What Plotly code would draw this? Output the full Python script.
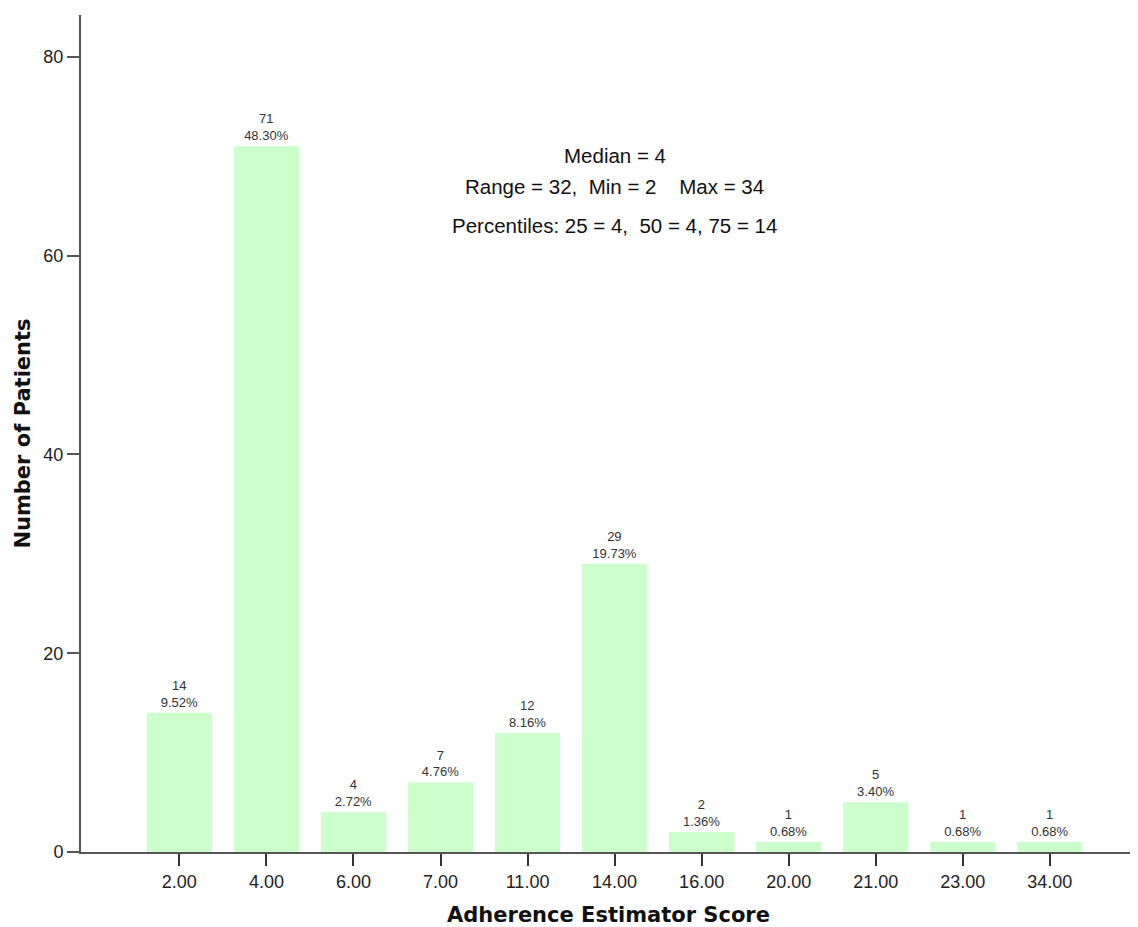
import plotly.graph_objects as go

categories = ["2.00", "4.00", "6.00", "7.00", "11.00", "14.00", "16.00", "20.00", "21.00", "23.00", "34.00"]
counts = [14, 71, 4, 7, 12, 29, 2, 1, 5, 1, 1]
percents = ["9.52%", "48.30%", "2.72%", "4.76%", "8.16%", "19.73%", "1.36%", "0.68%", "3.40%", "0.68%", "0.68%"]
y_ticks = [0, 20, 40, 60, 80]
stats_lines = [
    "Median = 4",
    "Range = 32,  Min = 2    Max = 34",
    "Percentiles: 25 = 4,  50 = 4, 75 = 14",
]
stats_y = [70.1, 66.9, 63.0]

labels = [f"{c}<br>{p}" for c, p in zip(counts, percents)]
xidx = list(range(len(categories)))

SANS = "Liberation Sans, Arial, sans-serif"
TITLE_FONT = "DejaVu Sans, Verdana, sans-serif"

fig = go.Figure()
fig.add_trace(go.Bar(
    x=xidx, y=counts, width=0.75,
    marker=dict(color="#CCFFCC", line=dict(width=0)),
    text=labels, textposition="outside", cliponaxis=False,
    textfont=dict(family=SANS, size=13, color="#333333"),
    hoverinfo="skip",
))

for line, yy in zip(stats_lines, stats_y):
    fig.add_annotation(x=5, y=yy, xref="x", yref="y", text=line, showarrow=False,
                       xanchor="center", yanchor="middle",
                       font=dict(family=SANS, size=20.5, color="#111111"))

fig.update_layout(
    width=1130, height=919,
    margin=dict(l=73, r=2, t=7, b=75),
    plot_bgcolor="white", paper_bgcolor="white",
    showlegend=False,
    bargap=0.25,
    xaxis=dict(
        range=[-1.13, 10.99], automargin=False,
        tickmode="array", tickvals=xidx, ticktext=categories,
        showgrid=False, zeroline=False,
        showline=True, linecolor="#555555", linewidth=2,
        ticks="outside", ticklen=12, tickwidth=2, tickcolor="#333333",
        tickfont=dict(family=SANS, size=18, color="#222222"),
        title=dict(text="<b>Adherence Estimator Score</b>", standoff=18,
                   font=dict(family=TITLE_FONT, size=21, color="#111111")),
    ),
    yaxis=dict(
        range=[0, 84.2], automargin=False,
        tickmode="array", tickvals=y_ticks,
        showgrid=False, zeroline=False,
        showline=True, linecolor="#555555", linewidth=2,
        ticks="outside", ticklen=12, tickwidth=2, tickcolor="#555555",
        tickfont=dict(family=SANS, size=18, color="#222222"),
        title=dict(text="<b>Number of Patients</b>", standoff=7,
                   font=dict(family=TITLE_FONT, size=21, color="#111111")),
    ),
)

fig.write_html("out.html")
